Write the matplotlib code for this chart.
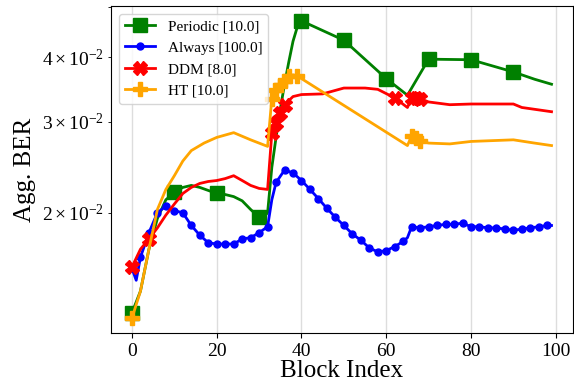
import matplotlib
matplotlib.use('Agg')
import matplotlib.pyplot as plt

plt.rcParams['font.family'] = ['Liberation Serif', 'DejaVu Serif']
plt.rcParams['mathtext.fontset'] = 'stix'

# Periodic [10.0]
periodic_x = [0, 2, 4, 6, 8, 10, 12, 14, 16, 18, 20, 22, 24, 26, 28, 30, 31, 32, 33, 34,
              35, 36, 37, 38, 39, 40, 50, 60, 65, 70, 80, 90, 95, 99]
periodic_y = [0.0128, 0.0141, 0.0170, 0.0195, 0.0212, 0.0219, 0.0224, 0.0226, 0.0224, 0.0221,
              0.0218, 0.0217, 0.0215, 0.0211, 0.0203, 0.0196, 0.0196, 0.0200, 0.0245, 0.0280,
              0.0318, 0.0355, 0.0392, 0.0430, 0.0458, 0.0471, 0.0432, 0.0364, 0.0338, 0.0397,
              0.0396, 0.0375, 0.0363, 0.0355]
periodic_marks = [0, 10, 20, 30, 40, 50, 60, 70, 80, 90]

# Always [100.0]
always_x = [0, 1, 2, 4, 6, 8, 10, 12, 14, 16, 18, 20, 22, 24, 26, 28, 30, 32, 33, 34,
            36, 38, 40, 42, 44, 46, 48, 50, 52, 54, 56, 58, 60, 62, 64, 65, 66, 68, 70,
            72, 74, 76, 78, 80, 82, 84, 86, 88, 90, 92, 94, 96, 98, 99]
always_y = [0.0156, 0.0148, 0.0164, 0.0183, 0.0200, 0.0206, 0.0202, 0.0200, 0.0189, 0.0181,
            0.0175, 0.0174, 0.0174, 0.0174, 0.0178, 0.0179, 0.0183, 0.0188, 0.0212, 0.0229,
            0.0242, 0.0239, 0.0231, 0.0222, 0.0213, 0.0204, 0.0196, 0.0189, 0.0182, 0.0177,
            0.0171, 0.0168, 0.0169, 0.0172, 0.0176, 0.0179, 0.0188, 0.0187, 0.0188,
            0.0189, 0.0190, 0.0190, 0.0191, 0.0188, 0.0188, 0.0187, 0.0187, 0.0186, 0.0185,
            0.0186, 0.0187, 0.0188, 0.0189, 0.0189]
always_marks = list(range(0, 100, 2))

# DDM [8.0]
ddm_x = [0, 2, 4, 6, 8, 10, 12, 14, 16, 18, 20, 22, 24, 26, 28, 30, 32, 33, 34, 35,
         36, 38, 40, 45, 50, 55, 58, 62, 65, 66, 67, 68, 70, 75, 80, 90, 92, 99]
ddm_y = [0.0157, 0.0170, 0.0178, 0.0187, 0.0198, 0.0208, 0.0218, 0.0224, 0.0228, 0.0230,
         0.0231, 0.0233, 0.0236, 0.0231, 0.0226, 0.0223, 0.0222, 0.0285, 0.0298, 0.0312,
         0.0324, 0.0336, 0.0339, 0.0340, 0.0349, 0.0349, 0.0347, 0.0334, 0.0320, 0.0334,
         0.0334, 0.0333, 0.0328, 0.0324, 0.0325, 0.0325, 0.0320, 0.0314]
ddm_marks = [0, 4, 33, 34, 35, 36, 62, 66, 67, 68]

# HT [10.0]
ht_x = [0, 2, 4, 6, 8, 10, 12, 14, 17, 20, 24, 28, 32, 33, 34, 35, 36, 37, 38, 39,
        40, 65, 66, 67, 68, 70, 75, 80, 90, 95, 99]
ht_y = [0.0125, 0.0141, 0.0170, 0.0203, 0.0222, 0.0236, 0.0252, 0.0264, 0.0273, 0.0280,
        0.0286, 0.0277, 0.0269, 0.0333, 0.0346, 0.0354, 0.0360, 0.0368, 0.0370, 0.0368,
        0.0364, 0.0270, 0.0282, 0.0279, 0.0276, 0.0273, 0.0272, 0.0275, 0.0277, 0.0273,
        0.0270]
ht_marks = [0, 33, 34, 35, 36, 37, 39, 66, 67, 68]


def mark_idx(xs, marks):
    return [i for i, x in enumerate(xs) if x in marks]


fig = plt.figure(figsize=(5.74, 3.83), dpi=100)
ax = fig.add_axes([111 / 574, 1 - 333 / 383, 461.5 / 574, 327 / 383])

ax.plot(periodic_x, periodic_y, color='green', lw=2, marker='s', ms=10,
        markevery=mark_idx(periodic_x, periodic_marks), label='Periodic [10.0]')
ax.plot(always_x, always_y, color='blue', lw=2, marker='o', ms=5,
        markevery=mark_idx(always_x, always_marks), label='Always [100.0]')
ax.plot(ddm_x, ddm_y, color='red', lw=2, marker='X', ms=10,
        markevery=mark_idx(ddm_x, ddm_marks), label='DDM [8.0]')
ax.plot(ht_x, ht_y, color='orange', lw=2, marker='P', ms=10,
        markevery=mark_idx(ht_x, ht_marks), label='HT [10.0]')

ax.set_yscale('log')
ax.set_xlabel('Block Index', fontsize=18, labelpad=0)
ax.set_ylabel('Agg. BER', fontsize=18)
ax.tick_params(which='both', labelsize=14)
ax.grid(axis='x', color='#dddddd', lw=1)
ax.legend(loc='upper left', fontsize=11)

plt.savefig('out.png')
